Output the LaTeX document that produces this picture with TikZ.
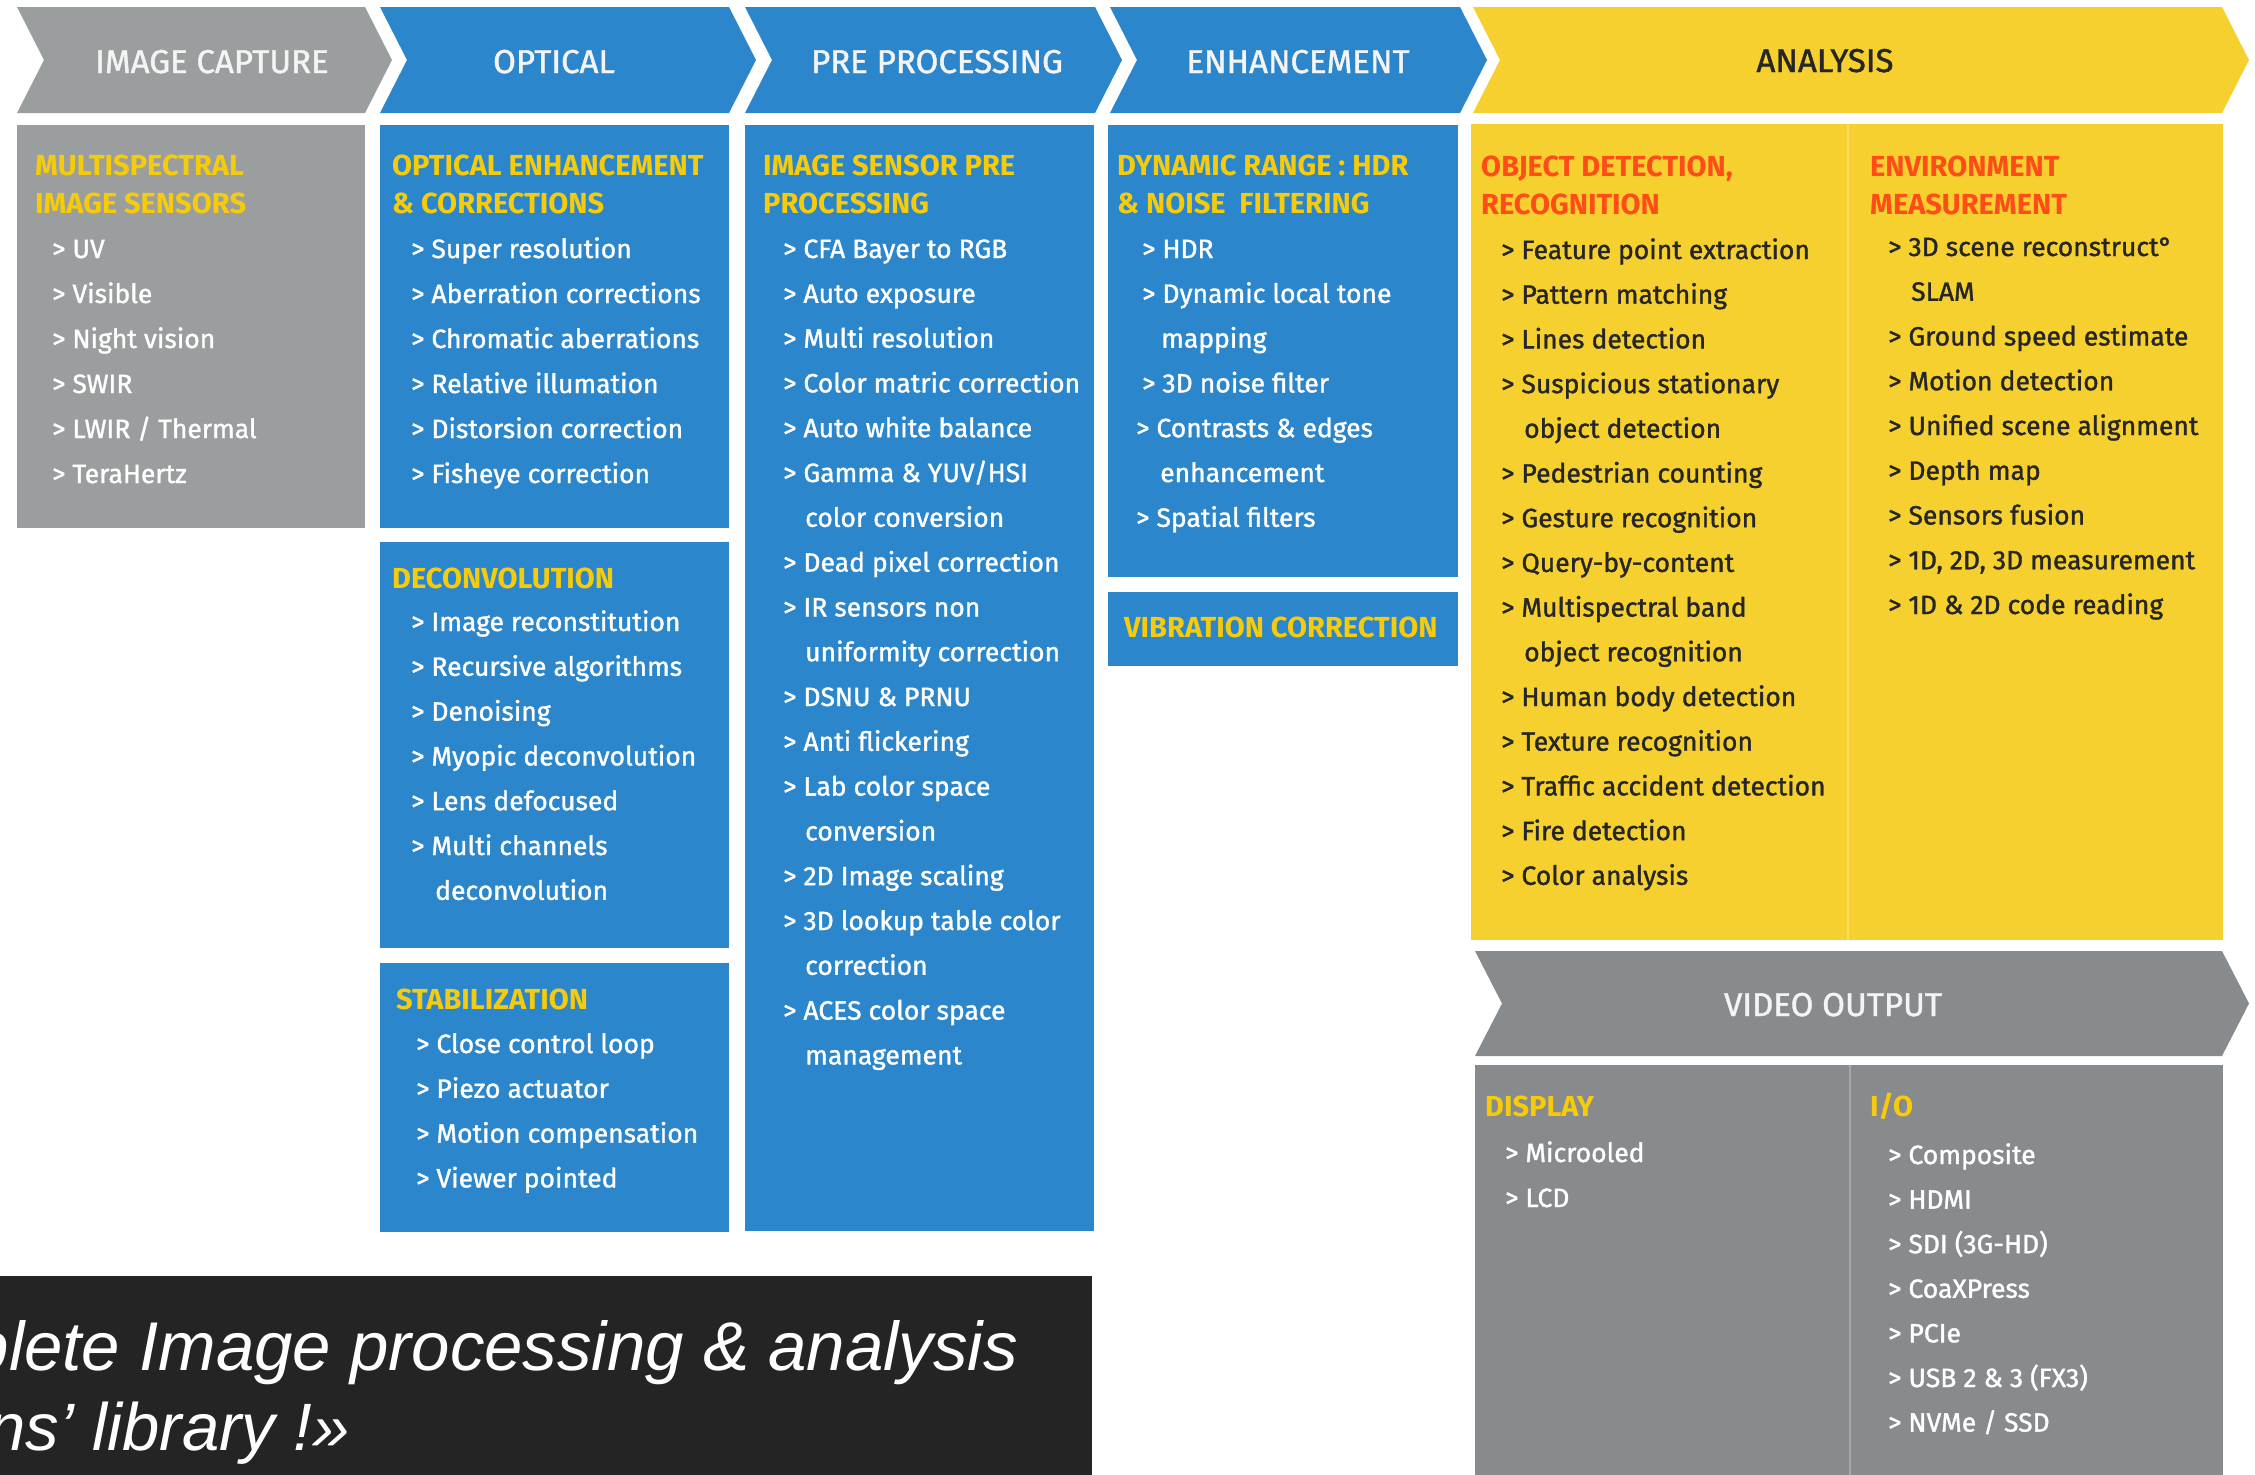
\documentclass[tikz,border=0pt]{standalone}
\usepackage{fontspec}
\setmainfont{Fira Sans}
\newfontfamily\medfont{Fira Sans}[FakeBold=1.3]
\newfontfamily\qfont{Liberation Sans}
\definecolor{capgray}{HTML}{9A9E9F}
\definecolor{vidgray}{HTML}{878B8E}
\definecolor{cblue}{HTML}{2B86CC}
\definecolor{cyellow}{HTML}{F6D02F}
\definecolor{ytxt}{HTML}{F5CB0C}
\definecolor{rtxt}{HTML}{FF4D1A}
\definecolor{hdrwhite}{HTML}{F4F4F4}
\definecolor{antxt}{HTML}{262626}
\definecolor{darkbg}{HTML}{242424}
\newcommand\mychev[5]{\fill[#1] (#2,#4) -- (#3,#4) -- ({#3+27},{(#4+#5)/2}) -- (#3,#5) -- (#2,#5) -- ({#2+27},{(#4+#5)/2}) -- cycle;}
\tikzset{
  hdr/.style={font=\medfont\fontsize{33}{33}\selectfont, text=hdrwhite, anchor=base, inner sep=0pt},
  ttl/.style={font=\fontsize{29}{29}\selectfont\bfseries, text=ytxt, anchor=base west, inner sep=0pt},
  rttl/.style={ttl, text=rtxt},
  itm/.style={font=\medfont\fontsize{26.5}{26.5}\selectfont, text=white, anchor=base west, inner sep=0pt},
  aitm/.style={itm, text=antxt},
  qt/.style={font=\qfont\itshape\fontsize{67}{67}\selectfont, text=white, anchor=base east, inner sep=0pt}
}
\begin{document}
\begin{tikzpicture}[x=1pt,y=-1pt]
\useasboundingbox (0,0) rectangle (2255,1475);
\fill[white] (0,0) rectangle (2255,1475);
% header chevrons
\mychev{capgray}{17}{365}{7}{113}
\mychev{cblue}{380}{729}{7}{113}
\mychev{cblue}{745}{1095}{7}{113}
\mychev{cblue}{1110}{1460}{7}{113}
\mychev{cyellow}{1473}{2222}{7}{113}
\mychev{vidgray}{1475}{2222}{951}{1056}
% boxes
\fill[capgray] (17,125) rectangle (365,528);
\fill[cblue] (380,125) rectangle (729,528);
\fill[cblue] (380,542) rectangle (729,948);
\fill[cblue] (380,963) rectangle (729,1232);
\fill[cblue] (745,125) rectangle (1094,1231);
\fill[cblue] (1108,125) rectangle (1458,577);
\fill[cblue] (1108,592) rectangle (1458,666);
\fill[cyellow] (1471,124) rectangle (2223,940);
\draw[line width=2pt, color=cyellow!75!white] (1848,124) -- (1848,940);
\fill[vidgray] (1475,1065) rectangle (2223,1475);
\draw[line width=2pt, color=vidgray!75!white] (1850,1065) -- (1850,1475);
\fill[darkbg] (0,1276) rectangle (1092,1475);
% header texts
\node[hdr] (hIC) at (212,73) {IMAGE CAPTURE};
\node[hdr] (hOP) at (554,73) {OPTICAL};
\node[hdr] (hPP) at (937,73) {PRE PROCESSING};
\node[hdr] (hEN) at (1298,73) {ENHANCEMENT};
\node[hdr, text=antxt] (hAN) at (1825,72) {ANALYSIS};
\node[hdr] (hVO) at (1833,1016) {VIDEO OUTPUT};
% image capture
\node[ttl] (tMS1) at (35,175) {MULTISPECTRAL};
\node[ttl] (tMS2) at (35,213) {IMAGE SENSORS};
\foreach \tx [count=\i from 0] in {> UV, > Visible, > Night vision, > SWIR, > LWIR / Thermal, > TeraHertz}
  \node[itm] (ic\i) at (52,{258+45*\i}) {\tx};
% optical enhancement
\node[ttl] (tOE1) at (392,175) {OPTICAL ENHANCEMENT};
\node[ttl] (tOE2) at (392,213) {\& CORRECTIONS};
\foreach \tx [count=\i from 0] in {> Super resolution, > Aberration corrections, > Chromatic aberrations, > Relative illumation, > Distorsion correction, > Fisheye correction}
  \node[itm] (oe\i) at (411,{258+45*\i}) {\tx};
% deconvolution
\node[ttl] (tDC) at (392,588) {DECONVOLUTION};
\foreach \xx/\tx [count=\i from 0] in {411/{> Image reconstitution}, 411/{> Recursive algorithms}, 411/{> Denoising}, 411/{> Myopic deconvolution}, 411/{> Lens defocused}, 411/{> Multi channels}, 435/{deconvolution}}
  \node[itm] (dc\i) at (\xx,{631+44.8*\i}) {\tx};
% stabilization
\node[ttl] (tST) at (396,1009) {STABILIZATION};
\foreach \tx [count=\i from 0] in {> Close control loop, > Piezo actuator, > Motion compensation, > Viewer pointed}
  \node[itm] (st\i) at (416,{1053+44.8*\i}) {\tx};
% pre processing
\node[ttl] (tPP1) at (763,175) {IMAGE SENSOR PRE};
\node[ttl] (tPP2) at (763,213) {PROCESSING};
\foreach \xx/\tx [count=\i from 0] in {783/{> CFA Bayer to RGB}, 783/{> Auto exposure}, 783/{> Multi resolution}, 783/{> Color matric correction}, 783/{> Auto white balance}, 783/{> Gamma \& YUV/HSI}, 805/{color conversion}, 783/{> Dead pixel correction}, 783/{> IR sensors non}, 805/{uniformity correction}, 783/{> DSNU \& PRNU}, 783/{> Anti flickering}, 783/{> Lab color space}, 805/{conversion}, 783/{> 2D Image scaling}, 783/{> 3D lookup table color}, 805/{correction}, 783/{> ACES color space}, 805/{management}}
  \node[itm] (pp\i) at (\xx,{258+44.8*\i}) {\tx};
% enhancement
\node[ttl] (tEN1) at (1117,175) {DYNAMIC RANGE : HDR};
\node[ttl] (tEN2) at (1117,213) {\& NOISE\ \ FILTERING};
\foreach \xx/\tx [count=\i from 0] in {1142/{> HDR}, 1142/{> Dynamic local tone}, 1161/{mapping}, 1142/{> 3D noise filter}, 1136/{> Contrasts \& edges}, 1160/{enhancement}, 1136/{> Spatial filters}}
  \node[itm] (en\i) at (\xx,{258+44.8*\i}) {\tx};
\node[ttl] (tVC) at (1124,637) {VIBRATION CORRECTION};
% analysis
\node[rttl] (tOD1) at (1481,176) {OBJECT DETECTION,};
\node[rttl] (tOD2) at (1481,214) {RECOGNITION};
\foreach \xx/\tx [count=\i from 0] in {1501/{> Feature point extraction}, 1501/{> Pattern matching}, 1501/{> Lines detection}, 1501/{> Suspicious stationary}, 1524/{object detection}, 1501/{> Pedestrian counting}, 1501/{> Gesture recognition}, 1501/{> Query-by-content}, 1501/{> Multispectral band}, 1524/{object recognition}, 1501/{> Human body detection}, 1501/{> Texture recognition}, 1501/{> Traffic accident detection}, 1501/{> Fire detection}, 1501/{> Color analysis}}
  \node[aitm] (od\i) at (\xx,{259+44.7*\i}) {\tx};
\node[rttl] (tEM1) at (1870,176) {ENVIRONMENT};
\node[rttl] (tEM2) at (1870,214) {MEASUREMENT};
\foreach \xx/\tx [count=\i from 0] in {1888/{> 3D scene reconstruct°}, 1911/{SLAM}, 1888/{> Ground speed estimate}, 1888/{> Motion detection}, 1888/{> Unified scene alignment}, 1888/{> Depth map}, 1888/{> Sensors fusion}, 1888/{> 1D, 2D, 3D measurement}, 1888/{> 1D \& 2D code reading}}
  \node[aitm] (em\i) at (\xx,{256+44.75*\i}) {\tx};
% video output
\node[ttl] (tDI) at (1485,1116) {DISPLAY};
\node[itm] (di0) at (1505,1162) {> Microoled};
\node[itm] (di1) at (1505,1207) {> LCD};
\node[ttl] (tIO) at (1870,1116) {I/O};
\foreach \tx [count=\i from 0] in {> Composite, > HDMI, > SDI (3G-HD), > CoaXPress, > PCIe, > USB 2 \& 3 (FX3), > NVMe / SSD}
  \node[itm] (io\i) at (1888,{1164+44.6*\i}) {\tx};
% quote
\node[qt, font=\qfont\itshape\fontsize{69}{69}\selectfont] (q1) at (1018,1370) {plete Image processing \& analysis};
\node[qt] (q2) at (350,1450) {ns’ library !»};
\end{tikzpicture}
\end{document}
